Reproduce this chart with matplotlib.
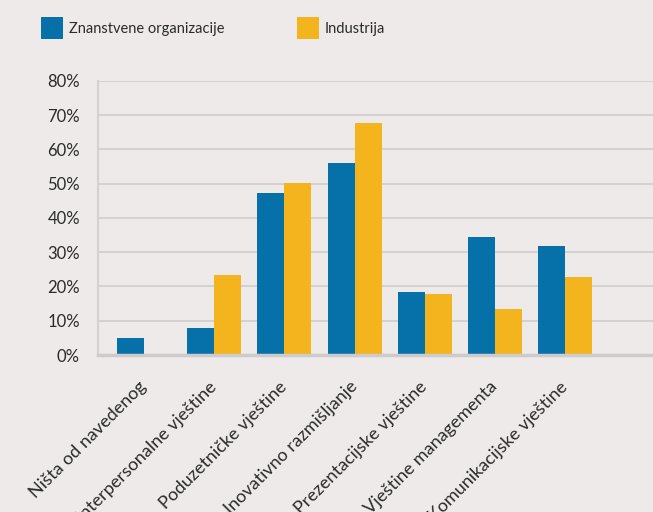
import matplotlib.pyplot as plt
import numpy as np
from matplotlib.ticker import PercentFormatter

categories = [
    "Ništa od navedenog",
    "Interpersonalne vještine",
    "Poduzetničke vještine",
    "Inovativno razmišljanje",
    "Prezentacijske vještine",
    "Vještine managementa",
    "Komunikacijske vještine",
]
znanstvene = [0.05, 0.08, 0.473, 0.561, 0.184, 0.345, 0.318]
industrija = [0.0, 0.234, 0.502, 0.677, 0.178, 0.134, 0.228]
series_names = ["Znanstvene organizacije", "Industrija"]

BG = "#eeeae9"
BLUE = "#0671a8"
YELLOW = "#f3b41d"
TXT = "#2b2b2b"

plt.rcParams["font.family"] = ["Lato", "DejaVu Sans"]

fig = plt.figure(figsize=(6.53, 5.12), dpi=100, facecolor=BG)
ax = fig.add_axes([0.150, 0.3066, 0.850, 0.5354], facecolor=BG)

x = np.arange(len(categories))
w = 0.385
b1 = ax.bar(x - w / 2, znanstvene, w, color=BLUE, label=series_names[0], zorder=3)
b2 = ax.bar(x + w / 2, industrija, w, color=YELLOW, label=series_names[1], zorder=3)

ax.set_ylim(0, 0.8)
ax.set_xlim(-0.655, 7.25)
ax.set_yticks(np.arange(0, 0.81, 0.1))
ax.yaxis.set_major_formatter(PercentFormatter(1.0, decimals=0))
ax.tick_params(axis="y", length=0, pad=13, labelsize=12, labelcolor=TXT)
ax.set_xticks(x)
ax.set_xticklabels(categories, rotation=45, ha="right", va="center",
                   rotation_mode="anchor", fontsize=13, color=TXT)
ax.tick_params(axis="x", length=0, pad=21)
ax.grid(axis="y", color="#d3d1d1", linewidth=1.4, zorder=0)

for s in ["top", "right"]:
    ax.spines[s].set_visible(False)
ax.spines["left"].set_color("#d3d1d1")
ax.spines["left"].set_linewidth(1.5)
ax.spines["bottom"].set_color("#cdcbcb")
ax.spines["bottom"].set_linewidth(2.5)
ax.spines["bottom"].set_zorder(4)

fig.legend(handles=[b1, b2], labels=series_names, loc="upper left",
           bbox_to_anchor=(0.043, 0.992), ncol=2, frameon=False,
           fontsize=10.5, handlelength=1.5, handleheight=1.95,
           handletextpad=0.4, columnspacing=5.0, labelcolor=TXT)

fig.savefig("out.png", dpi=100, facecolor=BG)
